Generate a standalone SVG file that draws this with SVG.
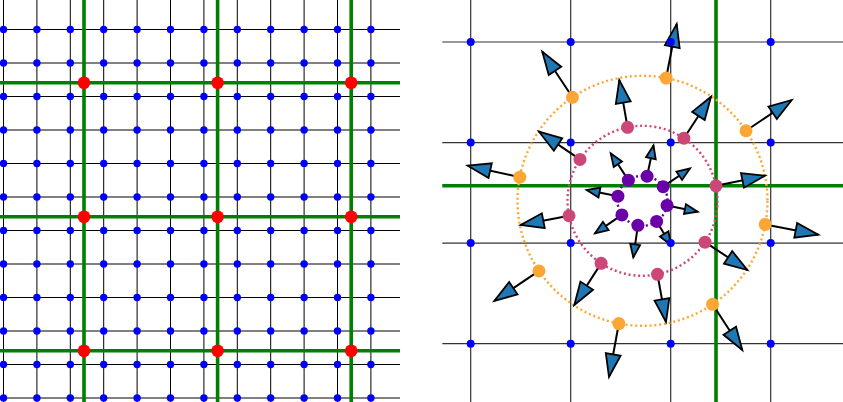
<svg xmlns="http://www.w3.org/2000/svg" width="843" height="402" viewBox="0 0 843 402">
<style>
.grid{fill:none;stroke:#000;stroke-width:1}
.gridr{fill:none;stroke:#333;stroke-width:1.2}
.green{fill:none;stroke:#008000;stroke-width:3.6}
.bdl{stroke:#0000ff;stroke-width:7.4;stroke-linecap:round;stroke-dasharray:0.01 33.39}
.bdr{stroke:#0000ff;stroke-width:8;stroke-linecap:round;stroke-dasharray:0.01 99.99}
.red{fill:#ff0000}
.ring{fill:none;stroke-width:2.4;stroke-dasharray:2 2.8}
.arr{stroke:#000;stroke-width:2;fill:none}
.big{marker-end:url(#hb)}
.small{marker-end:url(#hs)}
.o{fill:#fca636}
.p{fill:#cc4778}
.q{fill:#6a00a8}
</style>
<defs>
<marker id="hb" markerUnits="userSpaceOnUse" orient="auto" refX="0" refY="0" markerWidth="1" markerHeight="1" overflow="visible">
<path d="M-23,-7.5 L0,0 L-23,7.5 Z" fill="#1f77b4" stroke="#000" stroke-width="1.8"/>
</marker>
<marker id="hs" markerUnits="userSpaceOnUse" orient="auto" refX="0" refY="0" markerWidth="1" markerHeight="1" overflow="visible">
<path d="M-13,-5 L0,0 L-13,5 Z" fill="#1f77b4" stroke="#000" stroke-width="1.8"/>
</marker>
</defs>
<rect width="843" height="402" fill="#fff"/>

<g id="left-panel">
<path class="grid" d="M0 29.5H400M0 63H400M0 96.5H400M0 130H400M0 163.5H400M0 197H400M0 230.5H400M0 264H400M0 297.5H400M0 331H400M0 364.5H400M0 398H400"/>
<path class="grid" d="M3.5 0V402M36.9 0V402M70.3 0V402M103.7 0V402M137.1 0V402M170.5 0V402M203.9 0V402M237.3 0V402M270.7 0V402M304.1 0V402M337.5 0V402M370.9 0V402"/>
<path class="green" d="M0 82.7H400M0 216.7H400M0 350.7H400M84 0V402M217.6 0V402M351.2 0V402"/>
<g id="left-dots">
<line class="bdl" x1="3.5" y1="29.5" x2="380" y2="29.5"/>
<line class="bdl" x1="3.5" y1="63" x2="380" y2="63"/>
<line class="bdl" x1="3.5" y1="96.5" x2="380" y2="96.5"/>
<line class="bdl" x1="3.5" y1="130" x2="380" y2="130"/>
<line class="bdl" x1="3.5" y1="163.5" x2="380" y2="163.5"/>
<line class="bdl" x1="3.5" y1="197" x2="380" y2="197"/>
<line class="bdl" x1="3.5" y1="230.5" x2="380" y2="230.5"/>
<line class="bdl" x1="3.5" y1="264" x2="380" y2="264"/>
<line class="bdl" x1="3.5" y1="297.5" x2="380" y2="297.5"/>
<line class="bdl" x1="3.5" y1="331" x2="380" y2="331"/>
<line class="bdl" x1="3.5" y1="364.5" x2="380" y2="364.5"/>
<line class="bdl" x1="3.5" y1="398" x2="380" y2="398"/>
</g>
<g id="red-dots">
<circle class="red" cx="84" cy="82.7" r="6.3"/>
<circle class="red" cx="217.6" cy="82.7" r="6.3"/>
<circle class="red" cx="351.2" cy="82.7" r="6.3"/>
<circle class="red" cx="84" cy="216.7" r="6.3"/>
<circle class="red" cx="217.6" cy="216.7" r="6.3"/>
<circle class="red" cx="351.2" cy="216.7" r="6.3"/>
<circle class="red" cx="84" cy="350.7" r="6.3"/>
<circle class="red" cx="217.6" cy="350.7" r="6.3"/>
<circle class="red" cx="351.2" cy="350.7" r="6.3"/>
</g>
</g>

<g id="right-panel">
<path class="gridr" d="M442.3 42H843M442.3 142.6H843M442.3 243.1H843M442.3 343.7H843M470.7 0V402M570.7 0V402M670.7 0V402M770.7 0V402"/>
<path class="green" d="M442.3 185.7H843M716 0V402"/>
<circle class="ring" cx="642.5" cy="200.8" r="125" stroke="#fca636"/>
<circle class="ring" cx="642.5" cy="200.8" r="75" stroke="#cc4778"/>
<circle class="ring" cx="642.5" cy="200.8" r="25" stroke="#6a00a8"/>

<g id="connectors">
<line class="arr big" x1="765.25" y1="224.44" x2="818.3" y2="234.7"/>
<line class="arr big" x1="712.58" y1="304.31" x2="742.3" y2="350"/>
<line class="arr big" x1="618.86" y1="323.55" x2="609" y2="377"/>
<line class="arr big" x1="538.99" y1="270.88" x2="494.3" y2="301"/>
<line class="arr big" x1="519.75" y1="177.16" x2="467.7" y2="165.7"/>
<line class="arr big" x1="572.43" y1="97.29" x2="542.3" y2="51.7"/>
<line class="arr big" x1="666.14" y1="78.05" x2="676.7" y2="24"/>
<line class="arr big" x1="746.01" y1="130.73" x2="791.7" y2="100"/>

<line class="arr big" x1="715.99" y1="185.85" x2="765" y2="175.7"/>
<line class="arr big" x1="705.04" y1="242.19" x2="747.3" y2="270"/>
<line class="arr big" x1="657.46" y1="274.29" x2="666" y2="322"/>
<line class="arr big" x1="601.11" y1="263.34" x2="574.3" y2="305"/>
<line class="arr big" x1="569.01" y1="215.76" x2="520.7" y2="225"/>
<line class="arr big" x1="579.96" y1="159.41" x2="539" y2="131.7"/>
<line class="arr big" x1="627.55" y1="127.31" x2="619.3" y2="80"/>
<line class="arr big" x1="683.89" y1="138.26" x2="711" y2="96.7"/>

<line class="arr small" x1="667.07" y1="205.4" x2="697.7" y2="211.7"/>
<line class="arr small" x1="656.63" y1="221.43" x2="671" y2="245"/>
<line class="arr small" x1="637.9" y1="225.37" x2="633.3" y2="257.3"/>
<line class="arr small" x1="621.87" y1="214.93" x2="595" y2="233.3"/>
<line class="arr small" x1="617.93" y1="196.2" x2="586.7" y2="190"/>
<line class="arr small" x1="628.38" y1="180.17" x2="610.7" y2="153.3"/>
<line class="arr small" x1="647.1" y1="176.23" x2="653.5" y2="145.5"/>
<line class="arr small" x1="663.13" y1="186.68" x2="690" y2="168.5"/>
</g>

<g id="orange-points">
<circle id="o0" class="o" cx="765.25" cy="224.44" r="6.5"/>
<circle id="o1" class="o" cx="712.58" cy="304.31" r="6.5"/>
<circle id="o2" class="o" cx="618.86" cy="323.55" r="6.5"/>
<circle id="o3" class="o" cx="538.99" cy="270.88" r="6.5"/>
<circle id="o4" class="o" cx="519.75" cy="177.16" r="6.5"/>
<circle id="o5" class="o" cx="572.43" cy="97.29" r="6.5"/>
<circle id="o6" class="o" cx="666.14" cy="78.05" r="6.5"/>
<circle id="o7" class="o" cx="746.01" cy="130.73" r="6.5"/>
</g>
<g id="pink-points">
<circle id="p0" class="p" cx="715.99" cy="185.85" r="6.5"/>
<circle id="p1" class="p" cx="705.04" cy="242.19" r="6.5"/>
<circle id="p2" class="p" cx="657.46" cy="274.29" r="6.5"/>
<circle id="p3" class="p" cx="601.11" cy="263.34" r="6.5"/>
<circle id="p4" class="p" cx="569.01" cy="215.76" r="6.5"/>
<circle id="p5" class="p" cx="579.96" cy="159.41" r="6.5"/>
<circle id="p6" class="p" cx="627.55" cy="127.31" r="6.5"/>
<circle id="p7" class="p" cx="683.89" cy="138.26" r="6.5"/>
</g>
<g id="purple-points">
<circle id="q0" class="q" cx="667.07" cy="205.4" r="6.5"/>
<circle id="q1" class="q" cx="656.63" cy="221.43" r="6.5"/>
<circle id="q2" class="q" cx="637.9" cy="225.37" r="6.5"/>
<circle id="q3" class="q" cx="621.87" cy="214.93" r="6.5"/>
<circle id="q4" class="q" cx="617.93" cy="196.2" r="6.5"/>
<circle id="q5" class="q" cx="628.38" cy="180.17" r="6.5"/>
<circle id="q6" class="q" cx="647.1" cy="176.23" r="6.5"/>
<circle id="q7" class="q" cx="663.13" cy="186.68" r="6.5"/>
</g>
<g id="right-dots">
<line class="bdr" x1="470.7" y1="42" x2="780" y2="42"/>
<line class="bdr" x1="470.7" y1="142.6" x2="780" y2="142.6"/>
<line class="bdr" x1="470.7" y1="243.1" x2="780" y2="243.1"/>
<line class="bdr" x1="470.7" y1="343.7" x2="780" y2="343.7"/>
</g>
</g>
</svg>
